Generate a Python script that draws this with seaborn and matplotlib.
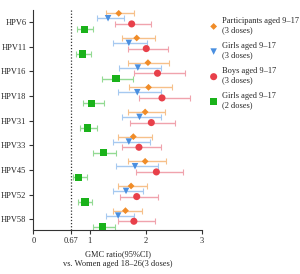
import numpy as np
import pandas as pd
import matplotlib
matplotlib.use("Agg")
import matplotlib.pyplot as plt
import seaborn as sns

# data
types = ["HPV6", "HPV11", "HPV16", "HPV18", "HPV31", "HPV33", "HPV45", "HPV52", "HPV58"]

part_gmr = [1.52, 1.84, 2.04, 2.05, 1.99, 1.78, 1.99, 1.74, 1.64]
part_lo = [1.29, 1.57, 1.69, 1.71, 1.68, 1.51, 1.68, 1.50, 1.41]
part_hi = [1.80, 2.17, 2.42, 2.46, 2.34, 2.11, 2.37, 2.02, 1.94]

girls3_gmr = [1.33, 1.70, 1.86, 1.85, 1.89, 1.70, 1.81, 1.65, 1.51]
girls3_lo = [1.13, 1.41, 1.53, 1.51, 1.57, 1.42, 1.48, 1.41, 1.29]
girls3_hi = [1.61, 2.03, 2.28, 2.27, 2.28, 2.08, 2.21, 1.95, 1.80]

boys_gmr = [1.75, 2.01, 2.21, 2.29, 2.10, 1.88, 2.19, 1.84, 1.79]
boys_lo = [1.45, 1.68, 1.80, 1.88, 1.72, 1.57, 1.82, 1.55, 1.50]
boys_hi = [2.10, 2.40, 2.70, 2.79, 2.52, 2.28, 2.67, 2.21, 2.17]

girls2_gmr = [0.91, 0.88, 1.47, 1.04, 0.97, 1.25, 0.81, 0.92, 1.23]
girls2_lo = [0.77, 0.76, 1.22, 0.88, 0.83, 1.06, 0.70, 0.80, 1.06]
girls2_hi = [1.07, 1.03, 1.78, 1.25, 1.14, 1.48, 0.96, 1.05, 1.45]

groups = ["Participants aged 9\u201317\n(3 doses)",
          "Girls aged 9\u201317\n(3 doses)",
          "Boys aged 9\u201317\n(3 doses)",
          "Girls aged 9\u201317\n(2 doses)"]

series = [
    (part_gmr, part_lo, part_hi, "#f08c28", "#f6c08a", "D", 12, -0.35),
    (girls3_gmr, girls3_lo, girls3_hi, "#4a8fe0", "#a6c9f0", "v", 22, -0.15),
    (boys_gmr, boys_lo, boys_hi, "#e8404a", "#f0a3ad", "o", 26, 0.08),
    (girls2_gmr, girls2_lo, girls2_hi, "#1ab21a", "#93da93", "s", 28, 0.30),
]

sns.set_theme(style="ticks")
plt.rcParams["font.family"] = ["Liberation Serif", "DejaVu Serif"]

fig = plt.figure(figsize=(3.0, 2.74), dpi=100)
ax = fig.add_axes([0.111, 0.161, 0.562, 0.803])

ypos = np.arange(len(types))
for (g, lo, hi, col, lcol, mk, sz, off), name in zip(series, groups):
    g = np.array(g)
    y = ypos + off
    ax.errorbar(g, y, xerr=[g - np.array(lo), np.array(hi) - g], fmt="none",
                ecolor=lcol, elinewidth=1.0, capsize=2, capthick=0.8, zorder=2)
    df = pd.DataFrame({"gmr": g, "y": y})
    sns.scatterplot(data=df, x="gmr", y="y", marker=mk, s=sz, color=col,
                    edgecolor="none", ax=ax, zorder=3, label=name)

ax.axvline(0.67, color="#333333", linestyle=(0, (1, 1.5)), linewidth=0.9, zorder=1)

ax.set_xlim(0, 3.0)
ax.set_ylim(8.43, -0.49)
ax.set_xticks([0, 0.67, 1, 2, 3])
ax.set_xticklabels(["0", "0.67", "1", "2", "3"])
ax.set_yticks(ypos)
ax.set_yticklabels(types)
ax.tick_params(labelsize=6, length=3, width=0.8, pad=2, color="#333333")
ax.set_xlabel("GMC ratio(95%CI)\nvs. Women aged 18\u201326(3 doses)", fontsize=6,
              labelpad=4, linespacing=1.3)
ax.set_ylabel("")
sns.despine(ax=ax)
for s in ["left", "bottom"]:
    ax.spines[s].set_linewidth(0.8)
    ax.spines[s].set_color("#333333")

ax.legend(loc="upper left", bbox_to_anchor=(0.683, 0.95), bbox_transform=fig.transFigure,
          frameon=False, fontsize=6, handletextpad=0.3, labelspacing=0.95,
          handlelength=1.3, borderaxespad=0)

fig.savefig("out.png", dpi=100)
